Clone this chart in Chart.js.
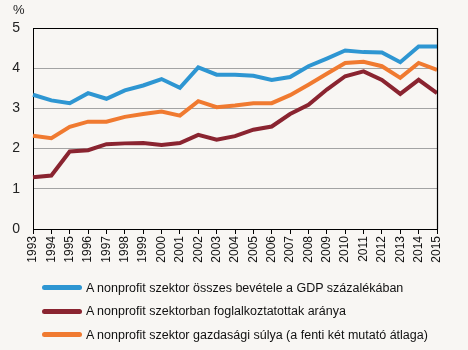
<!DOCTYPE html>
<html>
<head>
<meta charset="utf-8">
<script src="https://cdn.jsdelivr.net/npm/chart.js@4/dist/chart.umd.min.js"></script>
<style>
  html, body { margin: 0; padding: 0; background: #f8f6f3; }
  #wrap { position: relative; width: 468px; height: 350px; }
  #unit { position: absolute; left: 13px; top: 2px; font: 13px "Liberation Sans", Arial, sans-serif; color: #222; }
  #legend { position: absolute; left: 42px; top: 276px; font: 12.5px "Liberation Sans", Arial, sans-serif; color: #111; }
  .row { height: 23.5px; display: flex; align-items: center; }
  .swatch { width: 40px; height: 5px; border-radius: 3px; margin-right: 4px; }
</style>
</head>
<body>
<div id="wrap">
  <canvas id="chart" width="468" height="350"></canvas>
  <div id="unit">%</div>
  <div id="legend"></div>
</div>
<script>
const years = ['1993', '1994', '1995', '1996', '1997', '1998', '1999', '2000', '2001', '2002', '2003', '2004',
  '2005', '2006', '2007', '2008', '2009', '2010', '2011', '2012', '2013', '2014', '2015'];
const revenueGdp = [3.34, 3.20, 3.13, 3.38, 3.24, 3.45, 3.57, 3.73, 3.51, 4.02, 3.84, 3.84,
  3.81, 3.71, 3.78, 4.05, 4.24, 4.44, 4.40, 4.39, 4.15, 4.54, 4.54];
const employment = [1.29, 1.33, 1.93, 1.96, 2.11, 2.13, 2.14, 2.09, 2.14, 2.34, 2.22, 2.31,
  2.47, 2.55, 2.86, 3.09, 3.47, 3.80, 3.92, 3.71, 3.36, 3.71, 3.38];
const economicWeight = [2.32, 2.26, 2.54, 2.67, 2.67, 2.79, 2.86, 2.92, 2.82, 3.18, 3.03, 3.07,
  3.13, 3.13, 3.33, 3.59, 3.86, 4.13, 4.16, 4.05, 3.76, 4.13, 3.96];
const seriesNames = [
  'A nonprofit szektor összes bevétele a GDP százalékában',
  'A nonprofit szektorban foglalkoztatottak aránya',
  'A nonprofit szektor gazdasági súlya (a fenti két mutató átlaga)'
];
const seriesColors = ['#2e96d2', '#8a2430', '#f07a30'];

const font = "'Liberation Sans', Arial, sans-serif";

// black box round the plot area
const frame = {
  id: 'frame',
  afterDraw(chart) {
    const a = chart.chartArea;
    const ctx = chart.ctx;
    const l = Math.round(a.left) + 0.5, t = Math.round(a.top) + 0.5;
    const r = Math.round(a.right) + 0.5, b = Math.round(a.bottom) + 0.5;
    ctx.save();
    ctx.strokeStyle = '#000';
    ctx.lineWidth = 1.2;
    ctx.beginPath();
    ctx.moveTo(l, t);
    ctx.lineTo(r, t);
    ctx.lineTo(r, b);
    ctx.stroke();
    ctx.restore();
  }
};

const series = [revenueGdp, employment, economicWeight];

new Chart(document.getElementById('chart'), {
  type: 'line',
  data: {
    labels: years,
    datasets: series.map((d, i) => ({
      label: seriesNames[i],
      data: d,
      borderColor: seriesColors[i],
      backgroundColor: seriesColors[i],
      borderWidth: 4,
      pointRadius: 0,
      tension: 0,
      fill: false
    }))
  },
  options: {
    responsive: false,
    animation: false,
    layout: { padding: { top: 28, right: 31, left: 0, bottom: 0 } },
    plugins: { legend: { display: false }, tooltip: { enabled: false } },
    scales: {
      x: {
        offset: false,
        grid: { drawOnChartArea: false, drawTicks: true, tickLength: 5, color: '#000' },
        border: { display: true, color: '#000' },
        ticks: { minRotation: 90, maxRotation: 90, autoSkip: false, padding: 2,
          color: '#111', font: { family: font, size: 12 } },
        afterFit(scale) { scale.height = 121; }
      },
      y: {
        min: 0,
        max: 5,
        grid: { color: '#a3a3a3', drawTicks: false, lineWidth: 1 },
        border: { display: true, color: '#000' },
        ticks: { stepSize: 1, padding: 13, color: '#222', font: { family: font, size: 14 } },
        afterFit(scale) { scale.width = 33; }
      }
    }
  },
  plugins: [frame]
});

const legend = document.getElementById('legend');
seriesNames.forEach((name, i) => {
  const row = document.createElement('div');
  row.className = 'row';
  const sw = document.createElement('div');
  sw.className = 'swatch';
  sw.style.background = seriesColors[i];
  const txt = document.createElement('span');
  txt.textContent = name;
  row.appendChild(sw);
  row.appendChild(txt);
  legend.appendChild(row);
});
</script>
</body>
</html>
